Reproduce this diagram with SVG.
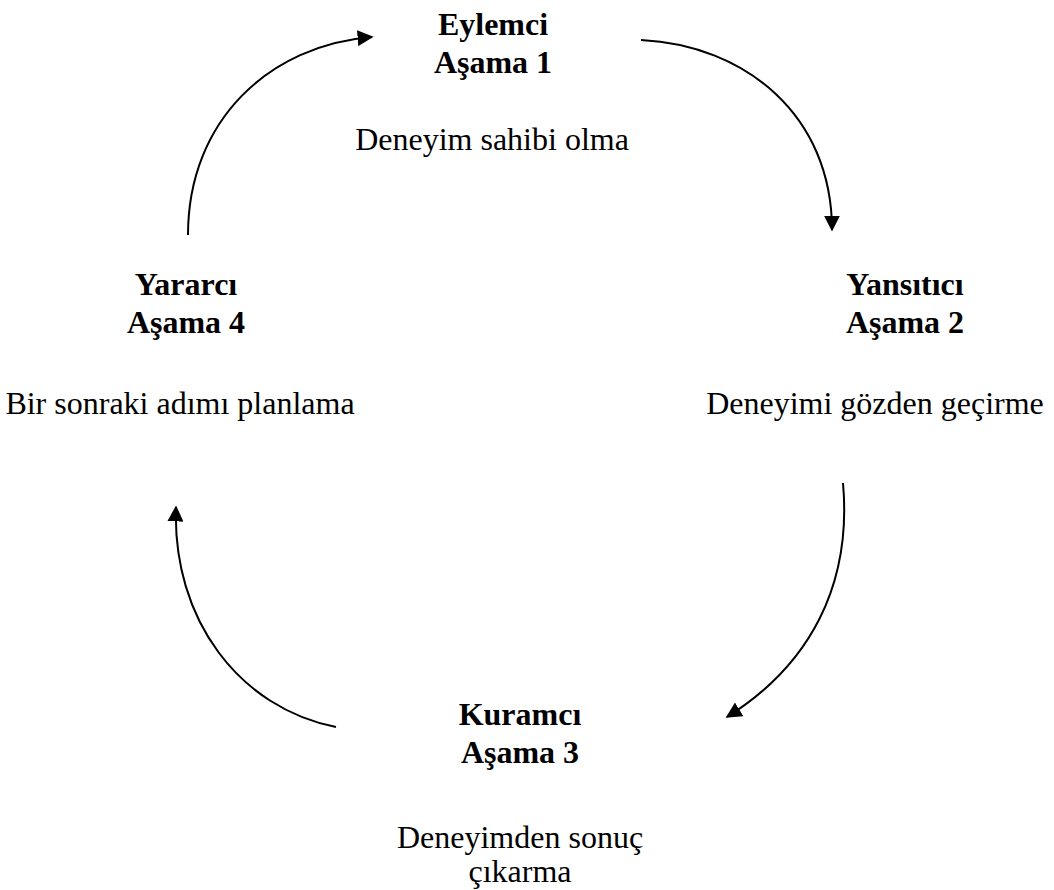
<svg xmlns="http://www.w3.org/2000/svg" width="1054" height="890" viewBox="0 0 1054 890">
<style>
text{font-family:"Liberation Serif","Times New Roman",serif;font-size:32px;fill:#000;text-anchor:middle}
.b{font-weight:bold}
.c{fill:none;stroke:#000;stroke-width:2}
</style>
<defs>
<marker id="ah" viewBox="0 0 10 10" refX="9" refY="5" markerWidth="16" markerHeight="16" markerUnits="userSpaceOnUse" orient="auto">
<path d="M0,0 L10,5 L0,10 z" fill="#000"/>
</marker>
</defs>
<rect width="1054" height="890" fill="#fff"/>
<g id="connectors">
<path class="c" d="M188,235 C188,120 270,45 372,37" marker-end="url(#ah)"/>
<path class="c" d="M641,40 C745,45 832,115 832,230" marker-end="url(#ah)"/>
<path class="c" d="M843,483 C852,585 810,665 727,717" marker-end="url(#ah)"/>
<path class="c" d="M336,727 C240,708 172,620 176,507" marker-end="url(#ah)"/>
</g>
<g id="node1">
<text class="b" x="493" y="35">Eylemci</text>
<text class="b" x="493" y="73">Aşama 1</text>
<text x="492" y="150">Deneyim sahibi olma</text>
</g>
<g id="node2">
<text class="b" x="905" y="295">Yansıtıcı</text>
<text class="b" x="905" y="333">Aşama 2</text>
<text x="875" y="414" font-size="31.5">Deneyimi gözden geçirme</text>
</g>
<g id="node3">
<text class="b" x="520" y="725">Kuramcı</text>
<text class="b" x="520" y="763">Aşama 3</text>
<text x="520" y="848">Deneyimden sonuç</text>
<text x="520" y="882">çıkarma</text>
</g>
<g id="node4">
<text class="b" x="186" y="295">Yararcı</text>
<text class="b" x="186" y="333">Aşama 4</text>
<text x="180" y="414" font-size="31">Bir sonraki adımı planlama</text>
</g>
</svg>
